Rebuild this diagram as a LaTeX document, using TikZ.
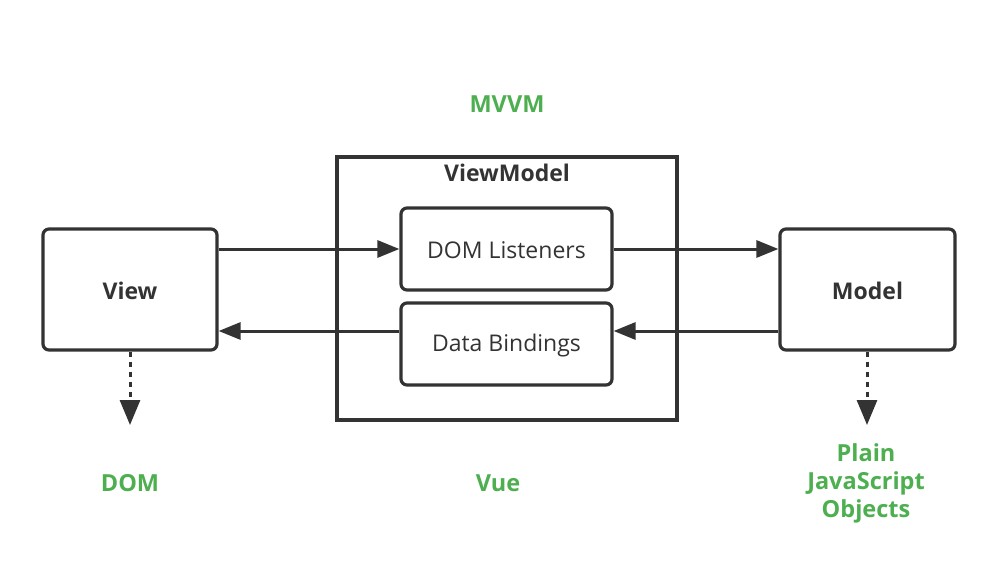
\documentclass[tikz,border=0pt]{standalone}
\usepackage{fontspec}
\setmainfont{Open Sans}
\usetikzlibrary{arrows.meta}
\definecolor{ink}{RGB}{51,51,51}
\definecolor{grn}{RGB}{77,175,80}
\tikzset{
  box/.style={draw=ink, line width=3.2pt, rounded corners=6pt, inner sep=0pt},
  frame/.style={draw=ink, line width=3.2pt, inner sep=0pt},
  lbl/.style={text=ink, font=\fontsize{23}{27}\selectfont},
  blbl/.style={text=ink, font=\fontsize{23}{27}\selectfont\bfseries},
  gl/.style={text=grn, font=\fontsize{23.5}{28}\selectfont\bfseries, align=center},
  conn/.style={draw=ink, line width=3pt, -{Triangle[length=22pt,width=17pt]}},
  dconn/.style={draw=ink, line width=3pt, dash pattern=on 5pt off 5pt, -{Triangle[length=25pt,width=20pt]}}
}
\begin{document}
\begin{tikzpicture}[x=1pt,y=-1pt]
\useasboundingbox (0,0) rectangle (998,586);
\node[frame, minimum width=340pt, minimum height=263pt] (vm) at (507,288.5) {};
\node[blbl] (vmt) at (507,173) {ViewModel};
\node[box, minimum width=174pt, minimum height=121pt] (view) at (130,289.5) {};
\node[blbl] (viewt) at (130,291) {View};
\node[box, minimum width=175pt, minimum height=121pt] (model) at (867.5,289.5) {};
\node[blbl] (modelt) at (867.5,291) {Model};
\node[box, minimum width=211pt, minimum height=82pt] (dl) at (506.5,249) {};
\node[lbl] (dlt) at (506.5,250) {DOM Listeners};
\node[box, minimum width=211pt, minimum height=82pt] (db) at (506.5,344) {};
\node[lbl] (dbt) at (506.5,346) {Data Bindings};
\node[gl] (mvvm) at (507,104) {MVVM};
\node[gl] (dom) at (130,483) {DOM};
\node[gl] (vue) at (498,483) {Vue};
\node[gl] (pjo) at (866,483) {Plain\\JavaScript\\Objects};
\coordinate (domtip) at (130,425);
\coordinate (pjotip) at (867,425);
\draw[conn] (view.east |- 0,249) -- (dl.west |- 0,249);
\draw[conn] (dl.east |- 0,249) -- (model.west |- 0,249);
\draw[conn] (model.west |- 0,331) -- (db.east |- 0,331);
\draw[conn] (db.west |- 0,331) -- (view.east |- 0,331);
\draw[dconn] (view.south -| domtip) -- (domtip);
\draw[dconn] (model.south -| pjotip) -- (pjotip);
\end{tikzpicture}
\end{document}
